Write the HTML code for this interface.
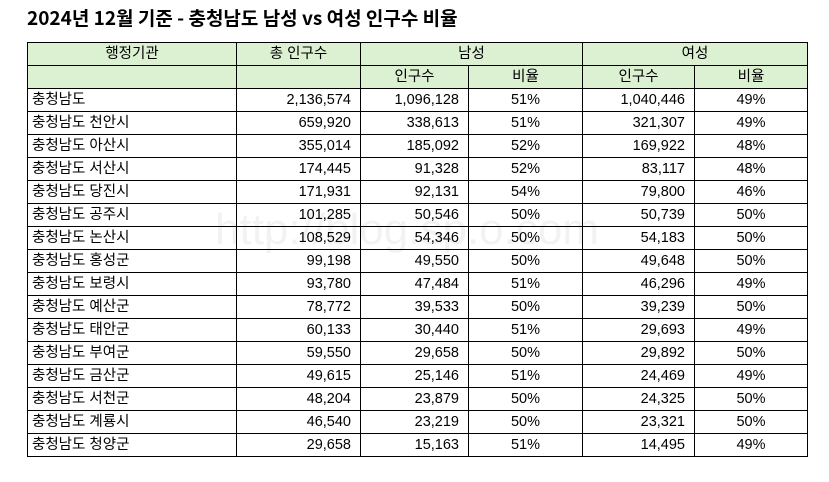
<!DOCTYPE html>
<html><head><meta charset="utf-8">
<style>
body{margin:0;width:829px;height:482px;background:#fff;font-family:"Liberation Sans","Noto Sans CJK KR",sans-serif;position:relative;overflow:hidden}
h1{position:absolute;left:27px;top:4px;margin:0;font-size:19px;font-weight:bold;color:#000;font-family:"Noto Sans CJK KR","Liberation Sans",sans-serif}
table{position:absolute;left:27px;top:42px;border-collapse:collapse;table-layout:fixed;font-size:14.5px;font-family:"Liberation Sans","Noto Sans CJK KR",sans-serif}
td{border:1px solid #000;height:22px;padding:0 4px;white-space:nowrap;line-height:20px;overflow:hidden}
.h{background:#dcf0d2;text-align:center}
.r{text-align:right;padding-right:9px}
.c{text-align:center}
.wm{position:absolute;left:215px;top:205px;font-size:44px;color:rgba(0,0,0,0.05);pointer-events:none}
</style></head><body>
<h1>2024년 12월 기준 - 충청남도 남성 vs 여성 인구수 비율</h1>
<table>
<colgroup><col style="width:209px"><col style="width:124px"><col style="width:108px"><col style="width:114px"><col style="width:112px"><col style="width:113px"></colgroup>
<tr><td class="h">행정기관</td><td class="h">총 인구수</td><td class="h" colspan="2">남성</td><td class="h" colspan="2">여성</td></tr>
<tr><td class="h"></td><td class="h"></td><td class="h">인구수</td><td class="h">비율</td><td class="h">인구수</td><td class="h">비율</td></tr>
<tbody id="tb"></tbody>
</table>
<div class="wm">http://blog.sp.o.com</div>
<script>
const regions=["충청남도","충청남도 천안시","충청남도 아산시","충청남도 서산시","충청남도 당진시","충청남도 공주시","충청남도 논산시","충청남도 홍성군","충청남도 보령시","충청남도 예산군","충청남도 태안군","충청남도 부여군","충청남도 금산군","충청남도 서천군","충청남도 계룡시","충청남도 청양군"];
const totals=["2,136,574","659,920","355,014","174,445","171,931","101,285","108,529","99,198","93,780","78,772","60,133","59,550","49,615","48,204","46,540","29,658"];
const male=["1,096,128","338,613","185,092","91,328","92,131","50,546","54,346","49,550","47,484","39,533","30,440","29,658","25,146","23,879","23,219","15,163"];
const maleRatio=["51%","51%","52%","52%","54%","50%","50%","50%","51%","50%","51%","50%","51%","50%","50%","51%"];
const female=["1,040,446","321,307","169,922","83,117","79,800","50,739","54,183","49,648","46,296","39,239","29,693","29,892","24,469","24,325","23,321","14,495"];
const femaleRatio=["49%","49%","48%","48%","46%","50%","50%","50%","49%","50%","49%","50%","49%","50%","50%","49%"];
const tb=document.getElementById('tb');
regions.forEach((r,i)=>{
 const tr=document.createElement('tr');
 
 
 [[r,''],[totals[i],'r'],[male[i],'r'],[maleRatio[i],'c'],[female[i],'r'],[femaleRatio[i],'c']].forEach(([v,c])=>{
  const td=document.createElement('td');
  
  
  if(c)td.className=c;
  td.textContent=v;tr.appendChild(td);
 });
 tb.appendChild(tr);
});
</script>
</body></html>
